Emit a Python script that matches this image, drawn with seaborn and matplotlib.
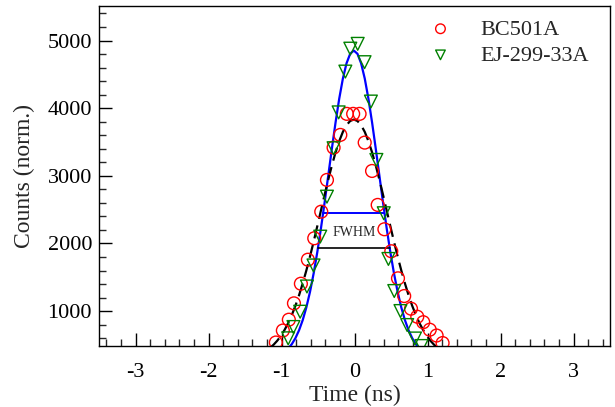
import numpy as np
import pandas as pd
import matplotlib
matplotlib.use("Agg")
import matplotlib.pyplot as plt
import seaborn as sns
from matplotlib.ticker import MultipleLocator

# ---- data ----
bc_time = [-1.078, -0.982, -0.900, -0.830, -0.735, -0.639, -0.552, -0.456, -0.378,
           -0.287, -0.195, -0.106, -0.019, 0.069, 0.139, 0.240, 0.317, 0.409,
           0.503, 0.595, 0.680, 0.773, 0.859, 0.941, 1.030, 1.124, 1.206]
bc_counts = [536, 713, 873, 1115, 1405, 1760, 2077, 2470, 2939,
             3417, 3605, 3916, 3916, 3916, 3491, 3072, 2570, 2210,
             1885, 1485, 1223, 1036, 917, 836, 725, 639, 528]

ej_time = [-0.909, -0.837, -0.745, -0.652, -0.562, -0.470, -0.378, -0.287, -0.218,
           -0.126, -0.058, 0.043, 0.137, 0.224, 0.299, 0.400, 0.464, 0.544,
           0.629, 0.721, 0.828, 0.918]
ej_counts = [598, 765, 991, 1364, 1675, 2101, 2692, 3408, 3938,
             4541, 4880, 4951, 4680, 4098, 3235, 2447, 1771, 1297,
             1001, 794, 595, 484]

# fitted curves
ej_fit_time = [-0.91, -0.86, -0.81, -0.76, -0.71, -0.66, -0.61, -0.56, -0.51, -0.46,
               -0.41, -0.36, -0.31, -0.26, -0.21, -0.16, -0.11, -0.06, -0.01,
               0.04, 0.09, 0.14, 0.19, 0.24, 0.29, 0.34, 0.39, 0.44, 0.49,
               0.54, 0.59, 0.64, 0.69, 0.74, 0.79, 0.84, 0.89]
ej_fit_counts = [446, 511, 600, 717, 867, 1056, 1285, 1559, 1873, 2225,
                 2606, 3005, 3405, 3790, 4140, 4437, 4663, 4804, 4852,
                 4804, 4663, 4437, 4140, 3790, 3405, 3005, 2606, 2225, 1873,
                 1559, 1285, 1056, 867, 717, 600, 511, 446]

bc_fit_time = [-1.16, -1.11, -1.06, -1.01, -0.96, -0.91, -0.86, -0.81, -0.76, -0.71,
               -0.66, -0.61, -0.56, -0.51, -0.46, -0.41, -0.36, -0.31, -0.26,
               -0.21, -0.16, -0.11, -0.06, -0.01, 0.04, 0.09, 0.14, 0.19, 0.24,
               0.29, 0.34, 0.39, 0.44, 0.49, 0.54, 0.59, 0.64, 0.69, 0.74, 0.79,
               0.84, 0.89, 0.94, 0.99, 1.04, 1.09, 1.14]
bc_fit_counts = [455, 502, 561, 632, 719, 821, 941, 1078, 1235, 1410,
                 1602, 1809, 2028, 2257, 2489, 2720, 2944, 3155, 3347,
                 3513, 3649, 3749, 3811, 3832, 3811, 3749, 3649, 3513, 3347,
                 3155, 2944, 2720, 2489, 2257, 2028, 1809, 1602, 1410, 1235, 1078,
                 941, 821, 719, 632, 561, 502, 455]

fwhm_ej_time = [-0.438, 0.409]
fwhm_ej_counts = [2447, 2447]
fwhm_bc_time = [-0.507, 0.492]
fwhm_bc_counts = [1929, 1929]

x_ticks = [-3, -2, -1, 0, 1, 2, 3]
y_ticks = [1000, 2000, 3000, 4000, 5000]

# ---- plotting ----
sns.set_theme(style="ticks")
plt.rcParams["font.family"] = ["Liberation Serif", "DejaVu Serif"]

fig = plt.figure(figsize=(6.15, 4.07), dpi=100)
ax = fig.add_axes([0.161, 0.150, 0.831, 0.836])

bc = pd.DataFrame({"t": bc_time, "c": bc_counts})
ej = pd.DataFrame({"t": ej_time, "c": ej_counts})

sns.lineplot(x=ej_fit_time, y=ej_fit_counts, ax=ax, color="#0000ff", lw=1.6,
             sort=False, estimator=None, zorder=3)
sns.lineplot(x=bc_fit_time, y=bc_fit_counts, ax=ax, color="black", lw=1.6,
             sort=False, estimator=None, zorder=3)
ax.lines[-1].set_dashes([6, 3])

sns.lineplot(x=fwhm_ej_time, y=fwhm_ej_counts, ax=ax, color="#0000ff", lw=1.4,
             estimator=None, zorder=3)
sns.lineplot(x=fwhm_bc_time, y=fwhm_bc_counts, ax=ax, color="black", lw=1.2,
             estimator=None, zorder=3)

sns.scatterplot(data=bc, x="t", y="c", ax=ax, marker="o", s=85,
                facecolor="none", edgecolor="red", linewidth=1.0,
                label="BC501A", zorder=4)
sns.scatterplot(data=ej, x="t", y="c", ax=ax, marker="v", s=85,
                facecolor="none", edgecolor="green", linewidth=1.0,
                label="EJ-299-33A", zorder=4)

ax.text(0.0, 2155, "FWHM", ha="center", va="center", fontsize=10)

ax.set_xlim(-3.5, 3.5)
ax.set_ylim(485, 5515)
ax.set_xticks(x_ticks)
ax.set_xticklabels([str(v) for v in x_ticks])
ax.set_yticks(y_ticks)
ax.set_yticklabels([str(v) for v in y_ticks])
ax.xaxis.set_minor_locator(MultipleLocator(0.2))
ax.yaxis.set_minor_locator(MultipleLocator(200))
ax.tick_params(which="major", direction="in", length=9.5, width=1.0,
               labelsize=16, top=False, right=False, colors="black")
ax.tick_params(which="minor", direction="in", length=5, width=1.0,
               top=False, right=False)
ax.tick_params(axis="x", pad=12)
ax.tick_params(axis="y", pad=5)
for sp in ax.spines.values():
    sp.set_visible(True)
    sp.set_linewidth(1.0)
    sp.set_color("black")

ax.set_xlabel("Time (ns)", fontsize=17, labelpad=2)
ax.set_ylabel("Counts (norm.)", fontsize=17, labelpad=9)

leg = ax.legend(loc="upper right", frameon=False, fontsize=16,
                handletextpad=0.8, borderaxespad=0.2, labelspacing=0.25,
                markerscale=0.75, bbox_to_anchor=(0.985, 1.0))

fig.savefig("out.png", dpi=100)
